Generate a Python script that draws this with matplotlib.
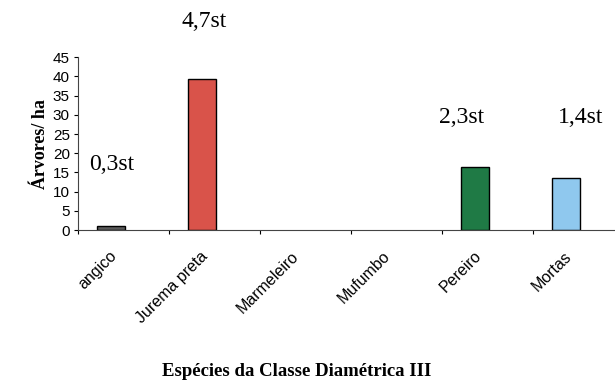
import matplotlib.pyplot as plt
import numpy as np

# ---- Data ----
especies = ["angico", "Jurema preta", "Marmeleiro", "Mufumbo", "Pereiro", "Mortas"]
arvores_ha = [1.0, 39.3, 0, 0, 16.4, 13.5]
estereos = ["0,3st", "4,7st", None, None, "2,3st", "1,4st"]
cores = ["#5a5a5a", "#d9534a", "#ffffff", "#ffffff", "#1f7a45", "#8fc8ee"]

# ---- Figure setup ----
fig = plt.figure(figsize=(6.15, 3.81), dpi=100)
ax = fig.add_axes([0.127, 0.396, 0.888, 0.454])

x = np.arange(len(especies))
bar_x = x - 0.14
bars = ax.bar(bar_x, arvores_ha, width=0.3, color=cores, edgecolor="black", linewidth=1.0)
# empty classes get no outline
for b, v in zip(bars, arvores_ha):
    if v == 0:
        b.set_visible(False)

ax.set_ylim(0, 45)
ax.set_xlim(-0.5, 5.5)
ax.set_yticks(range(0, 46, 5))
ax.tick_params(axis="y", labelsize=11, length=3, pad=3)
for lbl in ax.get_yticklabels():
    lbl.set_fontfamily("Liberation Sans")

# tick marks between categories, labels near category centres
ax.set_xticks(np.arange(-0.5, 5.6, 1))
ax.set_xticklabels([])
ax.tick_params(axis="x", which="major", length=3, direction="out")
ax.set_xticks(x - 0.1, minor=True)
ax.set_xticklabels(especies, minor=True, rotation=45, ha="right", va="center",
                   rotation_mode="anchor", fontsize=11.5, family="Liberation Sans")
ax.tick_params(axis="x", which="minor", length=0, pad=17)

for s in ["top", "right"]:
    ax.spines[s].set_visible(False)
ax.spines["left"].set_color("#444444")
ax.spines["bottom"].set_color("#444444")

ax.set_ylabel("Árvores/ ha", family="Liberation Serif", fontweight="bold", fontsize=13, labelpad=3)

# stereo-metre annotations
label_x = {0: -0.13, 1: 0.885, 4: 3.71, 5: 5.02}
label_y = {0: 17.2, 1: 54.2, 4: 29.4, 5: 29.4}
for i, txt in enumerate(estereos):
    if txt:
        ax.text(label_x[i], label_y[i], txt, ha="center", va="center",
                family="Liberation Serif", fontsize=17, clip_on=False)

fig.text(0.483, 0.025, "Espécies da Classe Diamétrica III", ha="center", va="center",
         family="Liberation Serif", fontweight="bold", fontsize=13.5)

fig.savefig("out.png", dpi=100)
